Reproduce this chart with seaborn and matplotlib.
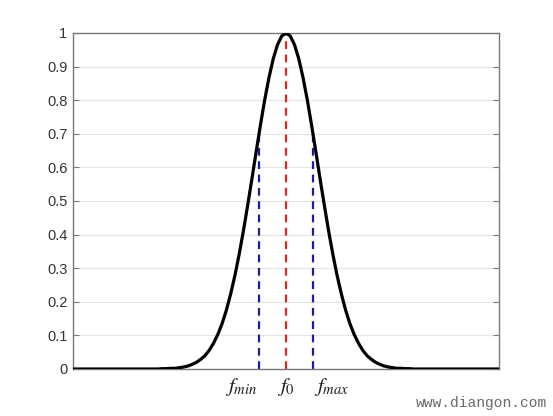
import matplotlib
matplotlib.use("Agg")
import matplotlib.pyplot as plt
import seaborn as sns
import pandas as pd

# curve (x in arbitrary units 0..100)
x_vals = [0] + list(range(20, 81)) + [100]
y_right = [0.991, 0.965, 0.923, 0.867, 0.801, 0.726, 0.647, 0.566, 0.487, 0.411,
           0.341, 0.278, 0.223, 0.175, 0.135, 0.103, 0.077, 0.056, 0.040, 0.029,
           0.020, 0.014, 0.009, 0.006, 0.004, 0.002, 0.002, 0.001, 0.001, 0.000]
y_vals = [0.0] + y_right[::-1] + [1.0] + y_right + [0.0]

f_positions = [43.67, 50.0, 56.33]
f_heights = [0.7, 1.0, 0.7]
f_colors = ["#1c1c9c", "#d42a2a", "#1c1c9c"]
f_labels = [r"$f_{min}$", r"$f_0$", r"$f_{max}$"]
label_positions = [39.4, 50.0, 60.8]
y_ticks = [0, 0.1, 0.2, 0.3, 0.4, 0.5, 0.6, 0.7, 0.8, 0.9, 1.0]
y_ticklabels = ["0", "0.1", "0.2", "0.3", "0.4", "0.5", "0.6", "0.7", "0.8", "0.9", "1"]

sns.set_style("white")
plt.rcParams["font.family"] = ["Liberation Sans", "DejaVu Sans"]
plt.rcParams["mathtext.fontset"] = "stix"

fig = plt.figure(figsize=(5.53, 4.16), dpi=100)
ax = fig.add_axes([73/553, 1-369/416, (499-73)/553, (369-33)/416])

df = pd.DataFrame({"x": x_vals, "y": y_vals})

for xp, h, c in zip(f_positions, f_heights, f_colors):
    ax.plot([xp, xp], [0, h], color=c, lw=1.6, dashes=(3.5, 2.5), zorder=2)

sns.lineplot(data=df, x="x", y="y", ax=ax, color="black", lw=2.3, zorder=3)

ax.set_xlim(0, 100)
ax.set_ylim(0, 1)
ax.set_yticks(y_ticks)
ax.set_yticklabels(y_ticklabels)
ax.set_xticks(label_positions)
ax.set_xticklabels(f_labels, fontsize=15)
ax.set_xlabel("")
ax.set_ylabel("")
ax.yaxis.grid(True, color="#e4e4e4", lw=0.8)
ax.set_axisbelow(True)
for s in ax.spines.values():
    s.set_visible(True)
    s.set_color("#7a7a7a")
    s.set_linewidth(1.0)
ax.tick_params(axis="y", direction="in", length=4, width=0.8, color="#7a7a7a",
               labelsize=10.5, labelcolor="#333333", pad=4, right=True, left=True)
ax.tick_params(axis="x", length=0, pad=5, labelcolor="#1a1a1a")

fig.text(547/553, 1-403/416, "www.diangon.com", ha="right", va="center",
         fontsize=10.5, color="#6a6a6a", family=["Liberation Mono", "DejaVu Sans Mono"])

fig.savefig("out.png", dpi=100, facecolor="white")
